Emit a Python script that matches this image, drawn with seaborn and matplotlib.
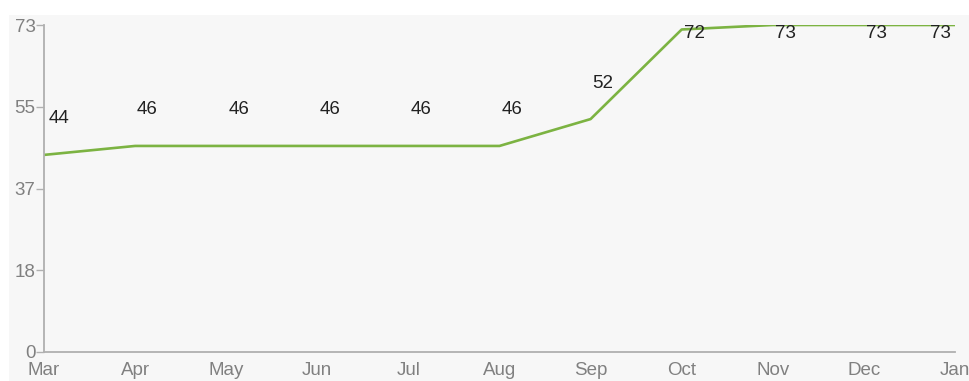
import matplotlib
matplotlib.use("Agg")
import matplotlib.pyplot as plt
import seaborn as sns
import pandas as pd
from matplotlib.patches import Rectangle

months = ["Mar", "Apr", "May", "Jun", "Jul", "Aug", "Sep", "Oct", "Nov", "Dec", "Jan"]
values = [44, 46, 46, 46, 46, 46, 52, 72, 73, 73, 73]
y_ticks = [0, 18.25, 36.5, 54.75, 73]
y_tick_labels = ["0", "18", "37", "55", "73"]

df = pd.DataFrame({"idx": range(len(months)), "value": values})

sns.set_theme(style="white")
plt.rcParams["font.family"] = ["Liberation Sans", "DejaVu Sans"]

W, H = 969, 381
fig = plt.figure(figsize=(W / 100, H / 100), dpi=100, facecolor="white")
bg = Rectangle((9 / W, 0), 1 - 9 / W, (H - 15) / H, transform=fig.transFigure,
               facecolor="#f7f7f7", edgecolor="none", zorder=-10)
fig.patches.append(bg)
ax = fig.add_axes([44 / W, (H - 352) / H, (955 - 44) / W, (352 - 25) / H])
ax.set_zorder(5)
ax.patch.set_alpha(0.0)

sns.lineplot(data=df, x="idx", y="value", ax=ax, color="#7cb342", linewidth=1.9)

ax.set_xlim(0, len(months) - 1)
ax.set_ylim(0, 73)
ax.set_xticks(range(len(months)))
ax.set_xticklabels(months)
ax.set_yticks(y_ticks)
ax.set_yticklabels(y_tick_labels)
ax.set_xlabel("")
ax.set_ylabel("")

for s in ["top", "right"]:
    ax.spines[s].set_visible(False)
for s in ["left", "bottom"]:
    ax.spines[s].set_color("#b0b0b0")
    ax.spines[s].set_linewidth(1.3)

ax.tick_params(axis="y", which="both", left=True, length=6, width=1, color="#b0b0b0",
               labelsize=13.5, labelcolor="#808080", pad=0)
ax.tick_params(axis="x", which="both", bottom=False, labelsize=13.5, labelcolor="#808080", pad=1)
for lab in ax.get_yticklabels():
    lab.set_verticalalignment("center_baseline")

# value labels
top = ax.transAxes.transform((0, 1))[1]
right = ax.transAxes.transform((1, 0))[0]
left = ax.transAxes.transform((0, 0))[0]
for i, v in enumerate(values):
    disp = ax.transData.transform((i, v))
    ty = min(disp[1] + 36, top - 8)
    tx = max(disp[0] + 2, left + 5)
    ha = "left"
    if tx + 24 > right:
        tx = right - 4
        ha = "right"
    ax.annotate(str(v), xy=(tx, ty), xycoords="figure pixels", ha=ha, va="center",
                fontsize=13.5, color="#222222")

fig.savefig("out.png", dpi=100, facecolor=fig.get_facecolor())
